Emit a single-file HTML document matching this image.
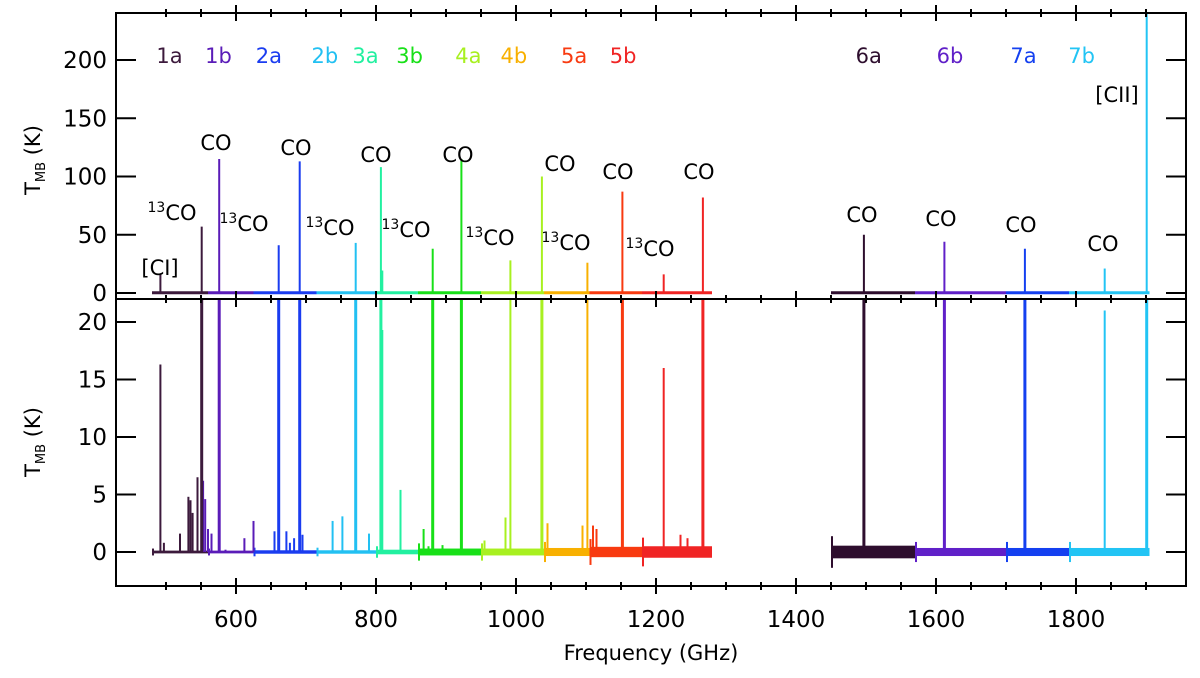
<!DOCTYPE html>
<html><head><meta charset="utf-8"><style>
html,body{margin:0;padding:0;background:#fff;}
svg{display:block;font-family:"DejaVu Sans","Liberation Sans",sans-serif;}
</style></head><body>
<svg id="chart" width="1200" height="678" viewBox="0 0 1200 678" xmlns="http://www.w3.org/2000/svg"></svg>
<script>
const bandNames=["1a","1b","2a","2b","3a","3b","4a","4b","5a","5b","6a","6b","7a","7b"];
const bandStart=[480,560,625,715,800,860,950,1040,1105,1180,1450,1570,1700,1790];
const bandEnd=[560,625,715,800,860,950,1040,1105,1180,1280,1570,1700,1790,1905];
const bandNoise=[0.12,0.12,0.15,0.15,0.2,0.3,0.3,0.35,0.45,0.5,0.55,0.35,0.35,0.35];
const bandColors=["#3c1a3c","#5a1cb8","#1a3cf0","#22c0f2","#22f0a0","#18e018","#a8f020","#f8b000","#f83a10","#f02424","#2e0e2e","#6020c8","#1440f0","#22c4f4"];
const bandLabelFreq=[505,575,647,727,785,848,932,997,1083,1153,1504,1620,1725,1808];
const lineFreq=[492,551,576,661,691,771,807,809,881,922,992,1037,1102,1152,1211,1267,1497,1612,1727,1841,1901];
const lineBand=[0,0,1,2,2,3,4,4,5,5,6,6,7,8,9,9,10,11,12,13,13];
const lineTemp=[16.3,57,115,41,113,43,108,19.3,38,115,28,100,26,87,16,82,50,44,38,21,260];
const smallFreq=[497,520,532,535,538,545,553,556,560,565,585,612,625,655,672,677,683,695,738,752,790,835,868,875,895,955,985,1045,1095,1110,1115,1235,1245];
const smallTemp=[0.8,1.6,4.8,4.5,3.4,6.5,6.2,4.6,2,1.6,0.2,1.2,2.7,1.8,1.8,0.8,1.2,1.5,2.7,3.1,1.6,5.4,2,0.5,0.6,1,3,2.5,2.3,2.3,2,1.5,1.2];
const smallBand=[0,0,0,0,0,0,1,1,1,1,1,1,1,2,2,2,2,2,3,3,3,4,5,5,5,6,6,7,7,8,8,9,9];
const labelText=["[CI]","13CO","CO","13CO","CO","13CO","CO","","13CO","CO","13CO","CO","13CO","CO","13CO","CO","CO","CO","CO","CO","[CII]"];
const labelX=[160,172,216,244,296,330,376,0,406,458,490,560,566,618,650,699,862,941,1021,1103,1117];
const labelY=[275,220,150,231,155,235,162,0,237,162,245,171,250,179,256,179,222,226,232,251,102];

const L=116,R=1186,fx=f=>236+(f-600)*0.7;
const T1=13,B1=299,yt=v=>293-v*1.165;
const T2=299,B2=586,yb=v=>552-v*11.5;
const svg=document.getElementById('chart');const NS="http://www.w3.org/2000/svg";
function el(tag,at,parent){const e=document.createElementNS(NS,tag);for(const k in at)e.setAttribute(k,at[k]);(parent||svg).appendChild(e);return e;}
const defs=el('defs',{});
const c1=el('clipPath',{id:'c1'},defs);el('rect',{x:L,y:T1,width:R-L,height:B1-T1},c1);
const c2=el('clipPath',{id:'c2'},defs);el('rect',{x:L,y:T2,width:R-L,height:B2-T2},c2);
const g1=el('g',{'clip-path':'url(#c1)'});
const g2=el('g',{'clip-path':'url(#c2)'});
for(let i=0;i<bandNames.length;i++){
 const x1=fx(bandStart[i]),x2=fx(bandEnd[i]),c=bandColors[i];
 const r1=el('rect',{x:x1,y:yt(1.5),width:x2-x1,height:3,fill:c},g1);
 
 const n=bandNoise[i];
 const r2=el('rect',{x:x1,y:yb(n),width:x2-x1,height:yb(-n)-yb(n),fill:c},g2);
 
 const b=el('line',{x1:x1+1,x2:x1+1,y1:yb(n*2.5),y2:yb(-n*2.5),stroke:c,'stroke-width':2},g2);
 
}
for(let i=0;i<smallFreq.length;i++){
 const x=fx(smallFreq[i]),c=bandColors[smallBand[i]];
 const a=el('line',{x1:x,x2:x,y1:yb(0),y2:yb(smallTemp[i]),stroke:c,'stroke-width':2},g2);
 
}
for(let i=0;i<lineFreq.length;i++){
 const x=fx(lineFreq[i]),c=bandColors[lineBand[i]];
 const a=el('line',{x1:x,x2:x,y1:yt(0),y2:yt(lineTemp[i]),stroke:c,'stroke-width':2},g1);
 
 const b=el('line',{x1:x,x2:x,y1:yb(0),y2:yb(lineTemp[i]),stroke:c,'stroke-width':lineTemp[i]>30?3:2},g2);
 
}
el('rect',{x:L,y:T1,width:R-L,height:B2-T1,fill:'none',stroke:'#000','stroke-width':2});
el('line',{x1:L,x2:R,y1:B1,y2:B1,stroke:'#000','stroke-width':2});
for(let f=500;f<=1900;f+=50){
 const x=fx(f),maj=f%200==0,len=maj?8:4;
 for(const y of [T1,B1,B2]){el('line',{x1:x,x2:x,y1:y,y2:y-len,stroke:'#000','stroke-width':2});el('line',{x1:x,x2:x,y1:y,y2:y+len,stroke:'#000','stroke-width':2});}
 if(maj){const t=el('text',{x:x,y:627,'text-anchor':'middle','font-size':23});t.textContent=f;}
}
const t1=[0,50,100,150,200],t2=[0,5,10,15,20];
for(const v of t1){const y=yt(v);el('line',{x1:L,x2:L+20,y1:y,y2:y,stroke:'#000','stroke-width':2});el('line',{x1:R-20,x2:R,y1:y,y2:y,stroke:'#000','stroke-width':2});
 const t=el('text',{x:107,y:y+8,'text-anchor':'end','font-size':23});t.textContent=v;}
for(const v of t2){const y=yb(v);el('line',{x1:L,x2:L+20,y1:y,y2:y,stroke:'#000','stroke-width':2});el('line',{x1:R-20,x2:R,y1:y,y2:y,stroke:'#000','stroke-width':2});
 const t=el('text',{x:107,y:y+8,'text-anchor':'end','font-size':23});t.textContent=v;}
const xt=el('text',{x:651,y:660,'text-anchor':'middle','font-size':21});xt.textContent='Frequency (GHz)';
function yTitle(cy,name){const t=el('text',{transform:`translate(40,${cy}) rotate(-90)`,'text-anchor':'middle','font-size':21});t.innerHTML='T<tspan font-size="13" dy="5">MB</tspan><tspan dy="-5"> (K)</tspan>';}
yTitle(160,'y-axis-title-top');yTitle(442,'y-axis-title-bottom');
for(let i=0;i<bandNames.length;i++){const t=el('text',{x:fx(bandLabelFreq[i]),y:63,'text-anchor':'middle','font-size':21,fill:bandColors[i]});t.textContent=bandNames[i];}
for(let i=0;i<labelText.length;i++){if(!labelText[i])continue;const t=el('text',{x:labelX[i],y:labelY[i],'text-anchor':'middle','font-size':21});
 if(labelText[i]=='13CO')t.innerHTML='<tspan font-size="14" dy="-8">13</tspan><tspan dy="8">CO</tspan>';else t.textContent=labelText[i];
 }
</script>
</body></html>
